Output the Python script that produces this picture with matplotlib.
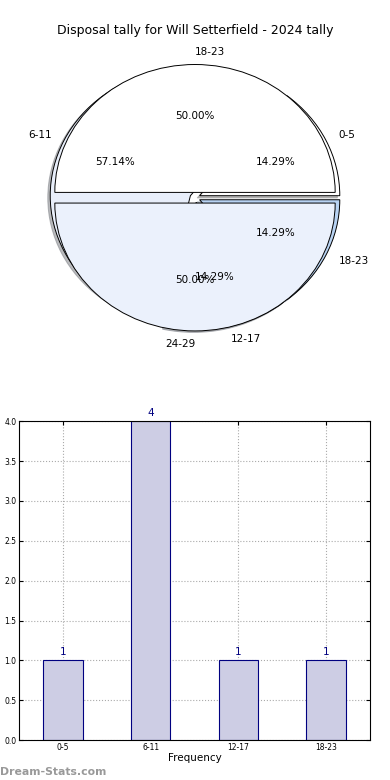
import matplotlib.pyplot as plt

# data
bins = ["0-5", "6-11", "12-17", "18-23"]
counts = [1, 4, 1, 1]
outer_labels = ["18-23", "24-29"]
outer_counts = [1, 1]

title = "Disposal tally for Will Setterfield - 2024 tally"

fig = plt.figure(figsize=(3.9, 7.8), dpi=100)

# ---- pie (two overlaid pies, stretched like the original) ----
ax01 = fig.add_axes([0.032, 0.533, 0.936, 0.427])
w1, t1, p1 = ax01.pie(counts, labels=bins, autopct="%1.2f%%", explode=[0.035] * 4,
                      colors=["white", "#e8eefa", "#dde6f6", "#b8d3f3"],
                      shadow={"ox": -0.012, "oy": -0.012, "shade": 0.5},
                      wedgeprops={"edgecolor": "black", "linewidth": 0.7},
                      textprops={"fontsize": 7.5}, radius=0.96)
w2, t2, p2 = ax01.pie(outer_counts, labels=outer_labels, autopct="%1.2f%%",
                      explode=[0.04, 0.04], colors=["white", "#ebf1fc"], radius=0.96,
                      wedgeprops={"edgecolor": "black", "linewidth": 0.7},
                      textprops={"fontsize": 7.5})
t2[0].set_ha("left")
t2[1].set_ha("right")
ax01.set_aspect("auto")
ax01.set_xlim(-1.25, 1.25)
ax01.set_ylim(-1.25, 1.25)
fig.text(0.5, 0.961, title, ha="center", va="center", fontsize=9)

# ---- bar chart ----
ax02 = fig.add_axes([0.049, 0.051, 0.9, 0.409])
x = range(len(bins))
ax02.bar(x, counts, width=0.45, color="#cdcde4", edgecolor="navy", linewidth=0.8, zorder=2)
for i, v in enumerate(counts):
    ax02.text(i, v + 0.04, str(v), ha="center", va="bottom", color="navy", fontsize=7.5)
ax02.set_xlim(-0.5, 3.5)
ax02.set_ylim(0, 4.0)
ax02.set_yticks([0, 0.5, 1.0, 1.5, 2.0, 2.5, 3.0, 3.5, 4.0])
ax02.set_yticklabels(["0.0", "0.5", "1.0", "1.5", "2.0", "2.5", "3.0", "3.5", "4.0"])
ax02.set_xticks(list(x))
ax02.set_xticklabels(bins)
ax02.tick_params(axis="both", labelsize=5.5, direction="in", top=True, right=True,
                 length=3, pad=2)
ax02.grid(True, linestyle=":", color="#aaaaaa", linewidth=0.8, zorder=0)
ax02.set_axisbelow(True)
ax02.set_xlabel("Frequency", fontsize=7.5, labelpad=1)

fig.text(0.0, 0.006, "Dream-Stats.com", fontsize=7.8, color="#999999", fontweight="bold")

fig.savefig("out.png", dpi=100)
